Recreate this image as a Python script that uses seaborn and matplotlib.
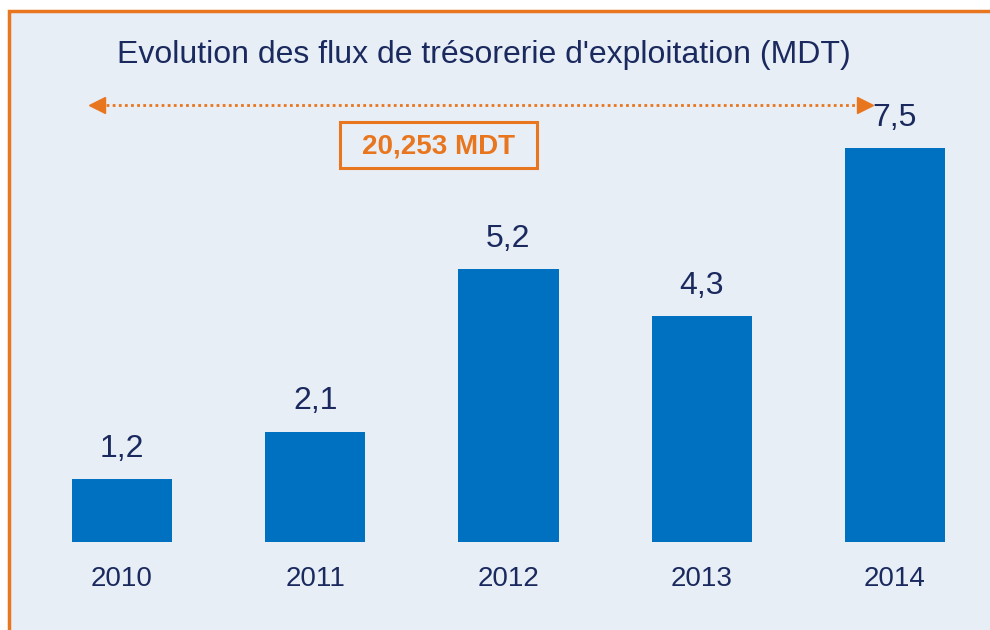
import matplotlib
matplotlib.use('Agg')
import matplotlib.pyplot as plt
import seaborn as sns
import pandas as pd
from matplotlib.patches import Rectangle

# ---------- data ----------
years = ['2010', '2011', '2012', '2013', '2014']
flux = [1.2, 2.1, 5.2, 4.3, 7.5]
value_labels = ['1,2', '2,1', '5,2', '4,3', '7,5']
title = "Evolution des flux de trésorerie d'exploitation (MDT)"
total_label = '20,253 MDT'

BLUE = '#0070C0'
NAVY = '#1B2A5E'
ORANGE = '#E8761E'
PANEL = '#E8EEF6'

sns.set_theme(style='white')
plt.rcParams['font.family'] = ['Liberation Sans', 'DejaVu Sans']

df = pd.DataFrame({'year': years, 'flux': flux})

W, H = 990, 630
fig = plt.figure(figsize=(W / 100, H / 100), dpi=100, facecolor='white')

# background axes in pixel coords: panel with orange border
bg = fig.add_axes([0, 0, 1, 1], zorder=-1)
bg.set_xlim(0, W)
bg.set_ylim(H, 0)
bg.axis('off')
bg.add_patch(Rectangle((9, 11), 1100, 700, facecolor=PANEL,
                       edgecolor=ORANGE, linewidth=2.5))

ax = fig.add_axes([0, 0, 1, 1], zorder=1)
ax.patch.set_alpha(0)
sns.barplot(data=df, x='year', y='flux', color=BLUE, width=0.52,
            saturation=1, linewidth=0, ax=ax)

# map categories to pixel layout: centres at 122..895 px, baseline at y=542
px_per_cat = (895 - 122) / 4
ax.set_xlim(-122 / px_per_cat, (W - 122) / px_per_cat)
px_per_unit = 52.5
ax.set_ylim(-(H - 542) / px_per_unit, 542 / px_per_unit)
ax.axis('off')

ax.bar_label(ax.containers[0], labels=value_labels, padding=11,
             fontsize=23, color=NAVY)
for i, y in enumerate(years):
    ax.text(i, -37 / px_per_unit, y, ha='center', va='center',
            fontsize=20, color=NAVY)

# overlay in pixel coordinates for title / arrow / box
ov = fig.add_axes([0, 0, 1, 1], zorder=2)
ov.set_xlim(0, W)
ov.set_ylim(H, 0)
ov.axis('off')
ov.patch.set_alpha(0)

ov.text(484, 55, title, ha='center', va='center', fontsize=23,
        color=NAVY)

ov.plot([100, 862], [105, 105], linestyle=(0, (1, 1.2)), color=ORANGE, lw=2)
ov.plot([97], [105], marker='<', color=ORANGE, markersize=11)
ov.plot([865], [105], marker='>', color=ORANGE, markersize=11)

ov.add_patch(Rectangle((340, 122), 197, 46, facecolor='none',
                       edgecolor=ORANGE, linewidth=2.2))
ov.text(438, 146, total_label, ha='center', va='center', fontsize=20,
        fontweight='bold', color=ORANGE)

fig.savefig('out.png', dpi=100, facecolor='white')
